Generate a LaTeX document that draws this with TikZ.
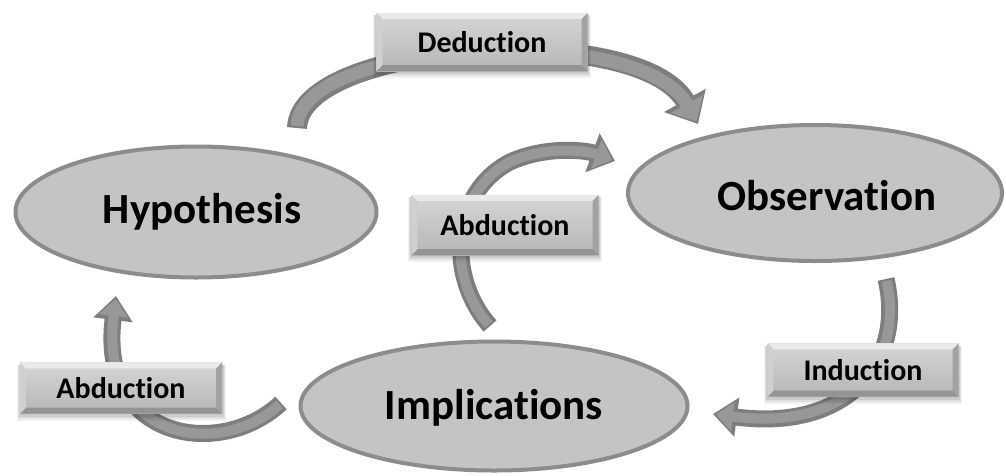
\documentclass[tikz,border=0pt]{standalone}
\usepackage{fontspec}
\setmainfont{Carlito}[RawFeature={-liga}]
\usetikzlibrary{arrows.meta,shapes.geometric,calc}

\definecolor{ellfill}{HTML}{C4C4C4}
\definecolor{ellline}{HTML}{8C8C8C}
\definecolor{arrdark}{HTML}{7E7E7E}
\definecolor{arrlight}{HTML}{989898}
\definecolor{facetop}{HTML}{D6D6D6}
\definecolor{facebot}{HTML}{B6B6B6}
\definecolor{bevtop}{HTML}{EAEAEA}
\definecolor{bevleft}{HTML}{D0D0D0}
\definecolor{bevright}{HTML}{A2A2A2}
\definecolor{bevbot}{HTML}{949494}

\tikzset{
  stage/.style={ellipse, fill=ellfill, draw=ellline, line width=4pt, inner sep=0pt},
  stagetext/.style={inner sep=0pt, font=\fontsize{43}{43}\selectfont\bfseries},
  labelbox/.style={rectangle, inner sep=0pt, top color=facetop, bottom color=facebot},
  labeltext/.style={inner sep=0pt, font=\fontsize{30}{30}\selectfont\bfseries},
  arrowout/.style n args={3}{draw=arrdark, line width=#1,
    -{Triangle[width=#2,length=#3]}},
  arrowin/.style n args={3}{draw=arrlight, line width=#1,
    shorten >=3pt, shorten <=2pt, -{Triangle[width=#2,length=#3]}},
}

% bevelled label box with a soft shadow underneath
\newcommand\bevelbox[6]{%
  \foreach \s/\o in {7/0.05,5/0.07,3/0.09}{
    \fill[black,opacity=\o] (#2-#4/2-\s/2,#3-#5/2+2) rectangle (#2+#4/2+\s/2,#3+#5/2+\s);
  }
  \node[labelbox, minimum width=#4pt, minimum height=#5pt] (#1) at (#2,#3) {};
  \fill[bevtop] (#1.north west) -- (#1.north east) -- ([shift={(-6pt,-6pt)}]#1.north east)
     -- ([shift={(6pt,-6pt)}]#1.north west) -- cycle;
  \fill[bevbot] (#1.south west) -- (#1.south east) -- ([shift={(-6pt,6pt)}]#1.south east)
     -- ([shift={(6pt,6pt)}]#1.south west) -- cycle;
  \fill[bevleft] (#1.north west) -- ([shift={(6pt,-6pt)}]#1.north west)
     -- ([shift={(6pt,6pt)}]#1.south west) -- (#1.south west) -- cycle;
  \fill[bevright] (#1.north east) -- ([shift={(-6pt,-6pt)}]#1.north east)
     -- ([shift={(-6pt,6pt)}]#1.south east) -- (#1.south east) -- cycle;
  \node[labeltext] (#1text) at (#1.center) {#6};
}

\begin{document}
\begin{tikzpicture}[x=1pt, y=-1pt]
  \useasboundingbox (0,0) rectangle (1006,475);
  \fill[white] (0,0) rectangle (1006,475);

  % free ends of the curved arrows
  \coordinate (dedtail) at (297,128);
  \coordinate (dedtip)  at (698,124);
  \coordinate (abmtail) at (490,326);
  \coordinate (abmtip)  at (615,161);
  \coordinate (abltail) at (281,403);
  \coordinate (abltip)  at (116,296);
  \coordinate (indtail) at (886,279);
  \coordinate (indtip)  at (713,414);

  % curved block arrows: dark outline first, lighter body on top
  \draw[arrowout={20pt}{46pt}{27pt}] (dedtail) .. controls (300,40) and (640,20) .. (dedtip);
  \draw[arrowin={13pt}{36pt}{20pt}]  (dedtail) .. controls (300,40) and (640,20) .. (dedtip);

  \draw[arrowout={17pt}{40pt}{24pt}] (abmtail) .. controls (445,275) and (452,192) .. (510,162)
                          .. controls (545,146) and (585,150) .. (abmtip);
  \draw[arrowin={10pt}{30pt}{17pt}]  (abmtail) .. controls (445,275) and (452,192) .. (510,162)
                          .. controls (545,146) and (585,150) .. (abmtip);

  \draw[arrowout={17pt}{38pt}{24pt}] (abltail) .. controls (220,460) and (98,440) .. (abltip);
  \draw[arrowin={10pt}{28pt}{17pt}]  (abltail) .. controls (220,460) and (98,440) .. (abltip);

  \draw[arrowout={17pt}{38pt}{24pt}] (indtail) .. controls (905,360) and (850,432) .. (indtip);
  \draw[arrowin={10pt}{28pt}{17pt}]  (indtail) .. controls (905,360) and (850,432) .. (indtip);

  % the three stages
  \node[stage, minimum width=361pt, minimum height=131pt] (hyp) at (196,212) {};
  \node[stagetext] (hyptext) at (202,212) {Hypothesis};
  \node[stage, minimum width=374pt, minimum height=136pt] (obs) at (815,193) {};
  \node[stagetext] (obstext) at (827,196) {Observation};
  \node[stage, minimum width=387pt, minimum height=129pt] (imp) at (494,406) {};
  \node[stagetext] (imptext) at (494,408) {Implications};

  % the labelled reasoning steps
  \bevelbox{ded}{482}{42}{211}{58}{Deduction}
  \bevelbox{abm}{505}{225}{187}{60}{Abduction}
  \bevelbox{abl}{121}{388}{202}{51}{Abduction}
  \bevelbox{ind}{863}{370}{191}{53}{Induction}
\end{tikzpicture}
\end{document}
